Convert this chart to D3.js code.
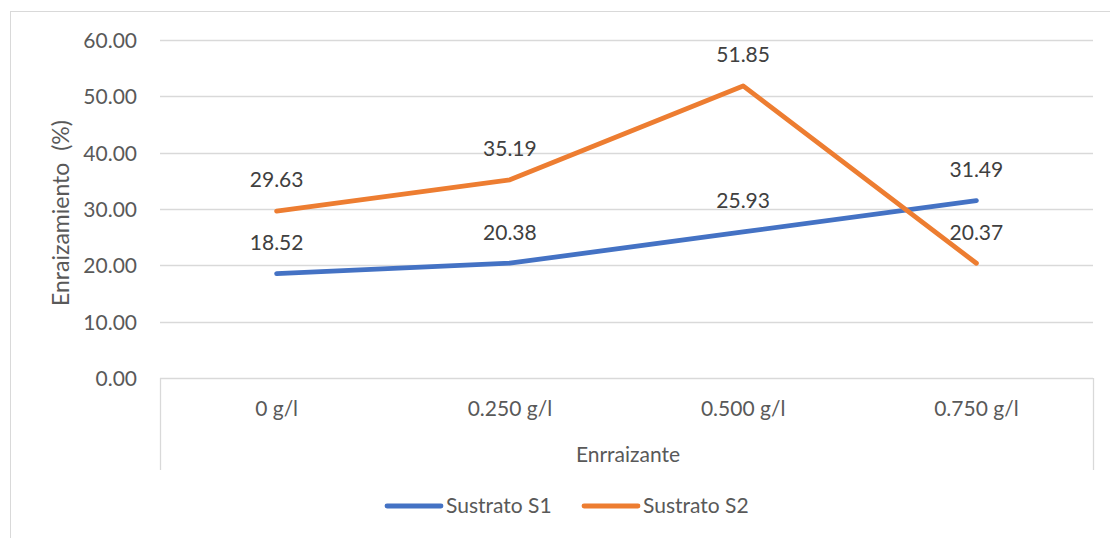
<!DOCTYPE html>
<html>
<head>
<meta charset="utf-8">
<script src="https://cdn.jsdelivr.net/npm/d3@7"></script>
<style>
  html, body { margin: 0; padding: 0; background: #fff; }
  svg { display: block; }
  text { font-family: Lato, "Open Sans", sans-serif; }
</style>
</head>
<body>
<svg id="chart" width="1110" height="538"></svg>
<script>
// Rooting percentage by rooting-agent dose, for two substrates
const categories = ["0 g/l", "0.250 g/l", "0.500 g/l", "0.750 g/l"];
const seriesNames = ["Sustrato S1", "Sustrato S2"];
const s1Values = [18.52, 20.38, 25.93, 31.49];
const s2Values = [29.63, 35.19, 51.85, 20.37];
const yTicks = [0, 10, 20, 30, 40, 50, 60];
const colors = ["#4472C4", "#ED7D31"];

const series = [
  { name: seriesNames[0], values: s1Values, color: colors[0] },
  { name: seriesNames[1], values: s2Values, color: colors[1] }
];

const FONT = "21px";
const svg = d3.select("#chart");

// chart frame
svg.append("rect")
  .attr("x", 10.5).attr("y", 11.5)
  .attr("width", 1120).attr("height", 540)
  .attr("fill", "none").attr("stroke", "#d9d9d9").attr("stroke-width", 1);

const plot = { left: 160, right: 1093, top: 40, bottom: 378 };

const x = d3.scaleBand().domain(categories).range([plot.left, plot.right]);
const y = d3.scaleLinear().domain([0, 60]).range([plot.bottom, plot.top]);
const cx = c => x(c) + x.bandwidth() / 2;

// horizontal gridlines
svg.append("g").selectAll("line")
  .data(yTicks.filter(t => t > 0))
  .join("line")
  .attr("x1", plot.left).attr("x2", plot.right)
  .attr("y1", d => Math.round(y(d)) + 0.5).attr("y2", d => Math.round(y(d)) + 0.5)
  .attr("stroke", "#d9d9d9").attr("stroke-width", 1.3);

// y axis labels
const yAxis = d3.axisLeft(y).tickValues(yTicks).tickFormat(d3.format(".2f")).tickSize(0).tickPadding(0);
const gy = svg.append("g").attr("transform", `translate(${plot.left - 23},0)`).call(yAxis);
gy.select(".domain").remove();
gy.selectAll("text")
  .attr("fill", "#595959").style("font-size", FONT)
  .attr("dy", "0.35em");

// category axis line with end dividers
const xAxisG = svg.append("g");
xAxisG.append("line")
  .attr("x1", plot.left).attr("x2", plot.right)
  .attr("y1", plot.bottom + 0.5).attr("y2", plot.bottom + 0.5)
  .attr("stroke", "#d9d9d9").attr("stroke-width", 1.3);
xAxisG.selectAll("line.div")
  .data([plot.left, plot.right])
  .join("line").attr("class", "div")
  .attr("x1", d => d + 0.5).attr("x2", d => d + 0.5)
  .attr("y1", plot.bottom).attr("y2", 470)
  .attr("stroke", "#d9d9d9").attr("stroke-width", 1.3);

const xAxis = d3.axisBottom(x).tickSize(0).tickPadding(0);
const gx = svg.append("g").attr("transform", `translate(0,${plot.bottom})`).call(xAxis);
gx.select(".domain").remove();
gx.selectAll("text")
  .attr("fill", "#595959").style("font-size", FONT)
  .attr("y", 31).attr("dy", "0.35em");

// axis titles
svg.append("text")
  .attr("transform", `translate(61,${(plot.top + plot.bottom) / 2 + 4}) rotate(-90)`)
  .attr("text-anchor", "middle").attr("dy", "0.35em")
  .attr("fill", "#595959").style("font-size", "23px")
  .style("word-spacing", "6px")
  .text("Enraizamiento (%)");

svg.append("text")
  .attr("x", 628).attr("y", 455)
  .attr("text-anchor", "middle").attr("dy", "0.35em")
  .attr("fill", "#595959").style("font-size", FONT)
  .text("Enrraizante");

// lines
const line = d3.line()
  .x((d, i) => cx(categories[i]))
  .y(d => y(d));

svg.append("g").selectAll("path")
  .data(series)
  .join("path")
  .attr("d", d => line(d.values))
  .attr("fill", "none")
  .attr("stroke", d => d.color)
  .attr("stroke-width", 4.8)
  .attr("stroke-linejoin", "round")
  .attr("stroke-linecap", "round");

// value labels above each point
series.forEach(s => {
  svg.append("g").selectAll("text")
    .data(s.values)
    .join("text")
    .attr("x", (d, i) => cx(categories[i]))
    .attr("y", d => y(d) - 31)
    .attr("text-anchor", "middle").attr("dy", "0.35em")
    .attr("fill", "#404040").style("font-size", FONT)
    .text(d => d3.format(".2f")(d));
});

// legend
const legend = svg.append("g");
const legendX = [387, 584];
series.forEach((s, i) => {
  const g = legend.append("g").attr("transform", `translate(${legendX[i]},506)`);
  g.append("line")
    .attr("x1", 0).attr("x2", 54).attr("y1", 0).attr("y2", 0)
    .attr("stroke", s.color).attr("stroke-width", 4.8).attr("stroke-linecap", "round");
  g.append("text")
    .attr("x", 59).attr("y", 0).attr("dy", "0.35em")
    .attr("fill", "#595959").style("font-size", FONT)
    .text(s.name);
});
</script>
</body>
</html>
